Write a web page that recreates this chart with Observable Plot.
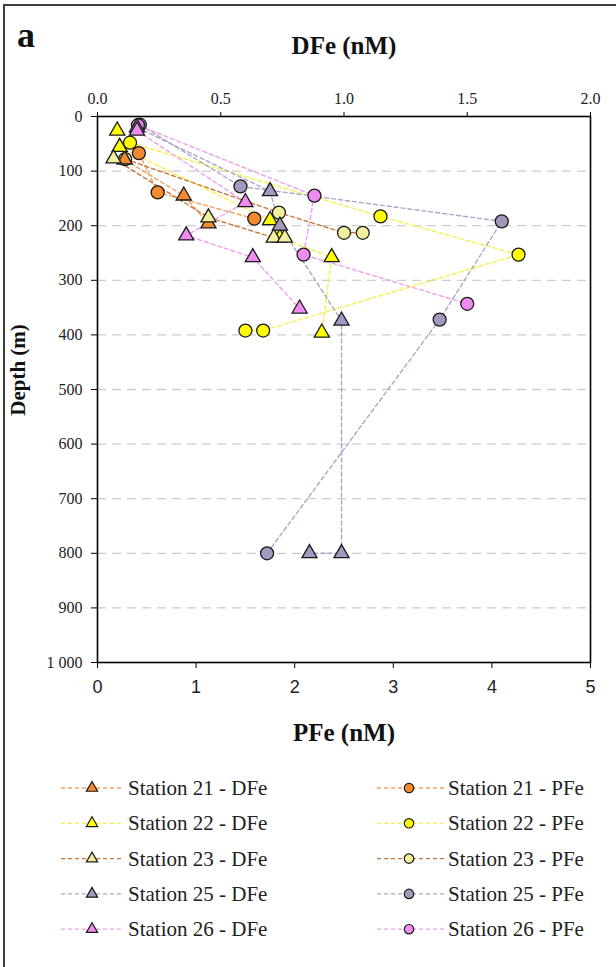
<!DOCTYPE html>
<html><head><meta charset="utf-8">
<script src="https://cdn.jsdelivr.net/npm/d3@7"></script>
<script src="https://cdn.jsdelivr.net/npm/@observablehq/plot@0.6"></script>
<style>
body{margin:0;background:#fff;}
#wrap{position:relative;width:616px;height:967px;overflow:hidden;background:#fff;}
#frame{position:absolute;left:3px;top:4px;width:700px;height:1000px;border-left:2px solid #3c3c3c;border-top:2px solid #3c3c3c;}
#chart{position:absolute;left:0;top:0;}
#overlay{position:absolute;left:0;top:0;}
.serif{font-family:"Liberation Serif","Times New Roman",serif !important;}
.sans{font-family:"Liberation Sans",Arial,sans-serif !important;}
</style></head><body>
<div id="wrap"><div id="frame"></div><div id="chart"></div><svg id="overlay" width="616" height="967"></svg></div>
<script>
// ---- tick labels ----
const depthTicks = [0,100,200,300,400,500,600,700,800,900,1000];
const gridDepths = [100,200,300,400,500,600,700,800,900];
const dfeTicks = [0,0.5,1,1.5,2];
const pfeTicks = [0,1,2,3,4,5];

// ---- stations & colours ----
const stations = ["Station 21","Station 22","Station 23","Station 25","Station 26"];
const fillColors = ["#f28a30","#ffff00","#f3ef9c","#a498bf","#f08cf0"];
const lineColors = ["#f3a266","#f5f050","#c8773c","#aea6c8","#eea0ee"];

// ---- DFe (nM) and depths (m) ----
const st21DFe = [0.11, 0.35, 0.45];
const st21DFeDepth = [79, 145, 196];
const st22DFe = [0.08, 0.09, 0.70, 0.74, 0.95, 0.91];
const st22DFeDepth = [26, 56, 190, 222, 258, 396];
const st23DFe = [0.065, 0.45, 0.715, 0.76];
const st23DFeDepth = [77, 185, 222, 222];
const st25DFe = [0.16, 0.70, 0.74, 0.99, 0.99, 0.86];
const st25DFeDepth = [20, 137, 200, 374, 800, 800];
const st26DFe = [0.16, 0.60, 0.36, 0.63, 0.82];
const st26DFeDepth = [26, 157, 218, 258, 352];

// ---- PFe (nM) and depths (m) ----
const st21PFe = [0.42, 0.61, 1.59];
const st21PFeDepth = [67, 139, 187];
const st22PFe = [0.33, 2.87, 4.27, 1.68, 1.50];
const st22PFeDepth = [48, 183, 253, 392, 392];
const st23PFe = [0.28, 1.84, 2.50, 2.69];
const st23PFeDepth = [78, 176, 213, 213];
const st25PFe = [0.43, 1.45, 4.10, 3.47, 1.72];
const st25PFeDepth = [15, 128, 192, 372, 800];
const st26PFe = [0.41, 2.20, 2.09, 3.75];
const st26PFeDepth = [16, 145, 253, 343];

const DFE_TO_PFE = 5 / 2; // top DFe axis (0–2) shares the PFe (0–5) range

const dfeSeries = [[st21DFe,st21DFeDepth],[st22DFe,st22DFeDepth],[st23DFe,st23DFeDepth],[st25DFe,st25DFeDepth],[st26DFe,st26DFeDepth]];
const pfeSeries = [[st21PFe,st21PFeDepth],[st22PFe,st22PFeDepth],[st23PFe,st23PFeDepth],[st25PFe,st25PFeDepth],[st26PFe,st26PFeDepth]];

const rows = [];
stations.forEach((s, i) => {
  const [dv, dd] = dfeSeries[i];
  dv.forEach((v, j) => rows.push({key: s + " - DFe", kind: "DFe", value: v, x: v * DFE_TO_PFE, depth: dd[j], fill: fillColors[i], line: lineColors[i]}));
  const [pv, pd] = pfeSeries[i];
  pv.forEach((v, j) => rows.push({key: s + " - PFe", kind: "PFe", value: v, x: v, depth: pd[j], fill: fillColors[i], line: lineColors[i]}));
});

const chart = Plot.plot({
  width: 616, height: 700,
  marginLeft: 97, marginRight: 26, marginTop: 116, marginBottom: 38,
  style: {background: "transparent", overflow: "visible"},
  x: {domain: [0, 5]},
  y: {domain: [0, 1000], reverse: true},
  color: {type: "identity"},
  marks: [
    Plot.ruleY(gridDepths, {stroke: "#cdcdcd", strokeDasharray: "9,6", strokeWidth: 1.3}),
    Plot.line(rows, {x: "x", y: "depth", z: "key", stroke: "line", strokeDasharray: "4,3", strokeWidth: 1.4}),
    Plot.dot(rows.filter(d => d.kind === "PFe"), {x: "x", y: "depth", r: 6.5, symbol: "circle", fill: "fill", stroke: "#1a1a1a", strokeWidth: 1.3}),
    Plot.dot(rows.filter(d => d.kind === "DFe"), {x: "x", y: "depth", r: 5.6, symbol: "triangle", fill: "fill", stroke: "#1a1a1a", strokeWidth: 1.3}),
    Plot.frame({stroke: "#000", strokeWidth: 1.6}),
    Plot.axisX({ticks: pfeTicks, anchor: "bottom", tickSize: 6, tickPadding: 12, label: null, fontSize: 18, tickFormat: d => String(d)}),
    Plot.axisX({ticks: dfeTicks.map(d => d * DFE_TO_PFE), anchor: "top", tickSize: 5, tickPadding: 8, label: null, fontSize: 16, tickFormat: d => (d / DFE_TO_PFE).toFixed(1)}),
    Plot.axisY({ticks: depthTicks, anchor: "left", tickSize: 6, tickPadding: 9, label: null, fontSize: 16, tickFormat: d => d >= 1000 ? d3.format(",")(d).replace(",", " ") : String(d)})
  ]
});
chart.querySelectorAll("text").forEach(t => {
  t.setAttribute("fill", "#222");
  const isSans = /^[0-9]$/.test(t.textContent.trim()) && t.closest('[aria-label="x-axis tick label"]');
  t.classList.add(isSans ? "sans" : "serif");
});
document.getElementById("chart").appendChild(chart);

// ---- titles & legend ----
const ov = d3.select("#overlay");
ov.append("text").attr("class", "serif").attr("x", 17).attr("y", 47).attr("font-weight", "bold").attr("font-size", 36).attr("fill", "#111").text("a");
ov.append("text").attr("class", "serif").attr("x", 344).attr("y", 54).attr("text-anchor", "middle").attr("font-weight", "bold").attr("font-size", 25).attr("fill", "#111").text("DFe (nM)");
ov.append("text").attr("class", "serif").attr("x", 344).attr("y", 741).attr("text-anchor", "middle").attr("font-weight", "bold").attr("font-size", 25).attr("fill", "#111").text("PFe (nM)");
ov.append("text").attr("class", "serif").attr("transform", "translate(25,370) rotate(-90)").attr("text-anchor", "middle").attr("font-weight", "bold").attr("font-size", 21).attr("fill", "#111").text("Depth (m)");

const legendY0 = 788, legendStep = 35.3;
const cols = [
  {kind: "DFe", x0: 61, x1: 124, mx: 92, tx: 128, sym: d3.symbolTriangle, size: 55},
  {kind: "PFe", x0: 377, x1: 445, mx: 409, tx: 448, sym: d3.symbolCircle, size: 70}
];
cols.forEach(c => {
  stations.forEach((s, i) => {
    const y = legendY0 + i * legendStep;
    const g = ov.append("g");
    g.append("line").attr("x1", c.x0).attr("x2", c.x1).attr("y1", y).attr("y2", y)
      .attr("stroke", lineColors[i]).attr("stroke-width", 1.3).attr("stroke-dasharray", "4,3");
    g.append("path").attr("d", d3.symbol(c.sym, c.size)()).attr("transform", `translate(${c.mx},${y})`)
      .attr("fill", fillColors[i]).attr("stroke", "#1a1a1a").attr("stroke-width", 1.2);
    g.append("text").attr("class", "serif").attr("x", c.tx).attr("y", y + 7).attr("font-size", 21).attr("fill", "#222")
      .text(`${s} - ${c.kind}`);
  });
});
</script>
</body></html>
